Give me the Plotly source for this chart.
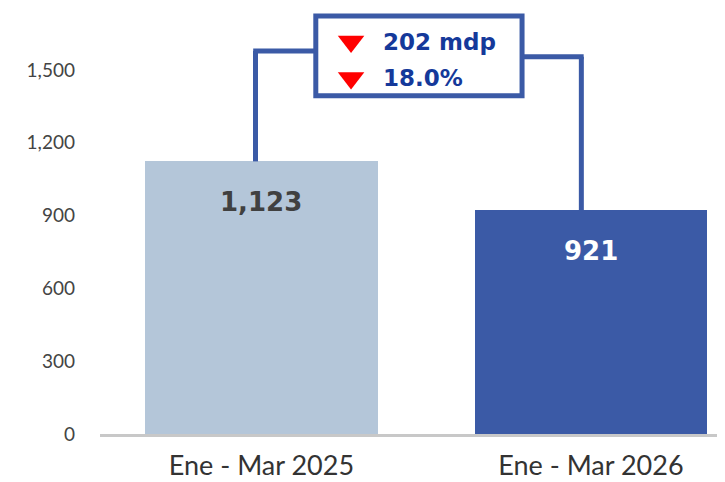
import plotly.graph_objects as go

categories = ["Ene - Mar 2025", "Ene - Mar 2026"]
values = [1123, 921]
value_labels = ["1,123", "921"]
diff_label = "202 mdp"
pct_label = "18.0%"
y_ticks = [0, 300, 600, 900, 1200, 1500]
y_tick_labels = ["0", "300", "600", "900", "1,200", "1,500"]

bar_colors = ["#b4c6d9", "#3b5aa6"]
label_colors = ["#404040", "#ffffff"]
line_color = "#3b5aa6"
text_blue = "#15399a"

fig = go.Figure()
fig.add_trace(go.Bar(
    x=categories, y=values, marker=dict(color=bar_colors, line=dict(width=0)),
    width=0.706, hoverinfo="skip", showlegend=False,
))

# value labels
for c, v, t, col in zip(categories, values, value_labels, label_colors):
    fig.add_annotation(x=c, y=v, yref="y", text=f"<b>{t}</b>", showarrow=False,
                       yshift=-41, font=dict(family="DejaVu Sans", size=26, color=col))

# connector lines
box_l, box_r, box_t, box_b = 0.165, 0.791, 1722, 1393
left_x, right_x = -0.018, 0.971
left_y, right_y = 1578, 1554
fig.add_shape(type="line", xref="x", yref="y", x0=left_x, x1=left_x, y0=values[0], y1=left_y,
              line=dict(color=line_color, width=5))
fig.add_shape(type="line", xref="x", yref="y", x0=left_x - 0.007, x1=box_l, y0=left_y, y1=left_y,
              line=dict(color=line_color, width=5))
fig.add_shape(type="line", xref="x", yref="y", x0=right_x, x1=right_x, y0=values[1], y1=right_y,
              line=dict(color=line_color, width=5))
fig.add_shape(type="line", xref="x", yref="y", x0=box_r, x1=right_x + 0.007, y0=right_y, y1=right_y,
              line=dict(color=line_color, width=5))
fig.add_shape(type="rect", xref="x", yref="y", x0=box_l, x1=box_r, y0=box_b, y1=box_t,
              line=dict(color=line_color, width=5), fillcolor="white", layer="below")

# box contents
tri_x = 0.272
txt_x = 0.362
row_y = [1617, 1467]
fig.add_trace(go.Scatter(
    x=[tri_x, tri_x], y=row_y, mode="markers", xaxis="x2", yaxis="y",
    marker=dict(symbol="triangle-down", size=23, color="#ff0000", line=dict(width=0)),
    hoverinfo="skip", showlegend=False,
))
for txt, yv in zip([diff_label, pct_label], row_y):
    fig.add_annotation(x=txt_x, y=yv, xref="x2", yref="y", text=f"<b>{txt}</b>", showarrow=False,
                       xanchor="left", font=dict(family="DejaVu Sans", size=23, color=text_blue))

fig.update_layout(
    width=725, height=482,
    margin=dict(l=92, r=8, t=0, b=56),
    plot_bgcolor="white", paper_bgcolor="white",
    font=dict(family="Lato", color="#333333"),
    bargap=0,
    xaxis2=dict(overlaying="x", range=[-0.490, 1.407], visible=False),
)
fig.update_layout(xaxis=dict(
    type="category", range=[-0.490, 1.407], showgrid=False, zeroline=False,
    showline=True, linecolor="#c8c8c8", linewidth=3,
    tickfont=dict(family="Lato", size=27, color="#333333"), ticks="",
    ticklabelstandoff=6,
))
fig.update_yaxes(
    range=[0, 1755], tickvals=y_ticks, ticktext=y_tick_labels, showgrid=False,
    zeroline=False, showline=False, ticks="",
    tickfont=dict(family="Lato", size=19, color="#444444"), ticklabelstandoff=24,
)

fig.write_html("out.html")
